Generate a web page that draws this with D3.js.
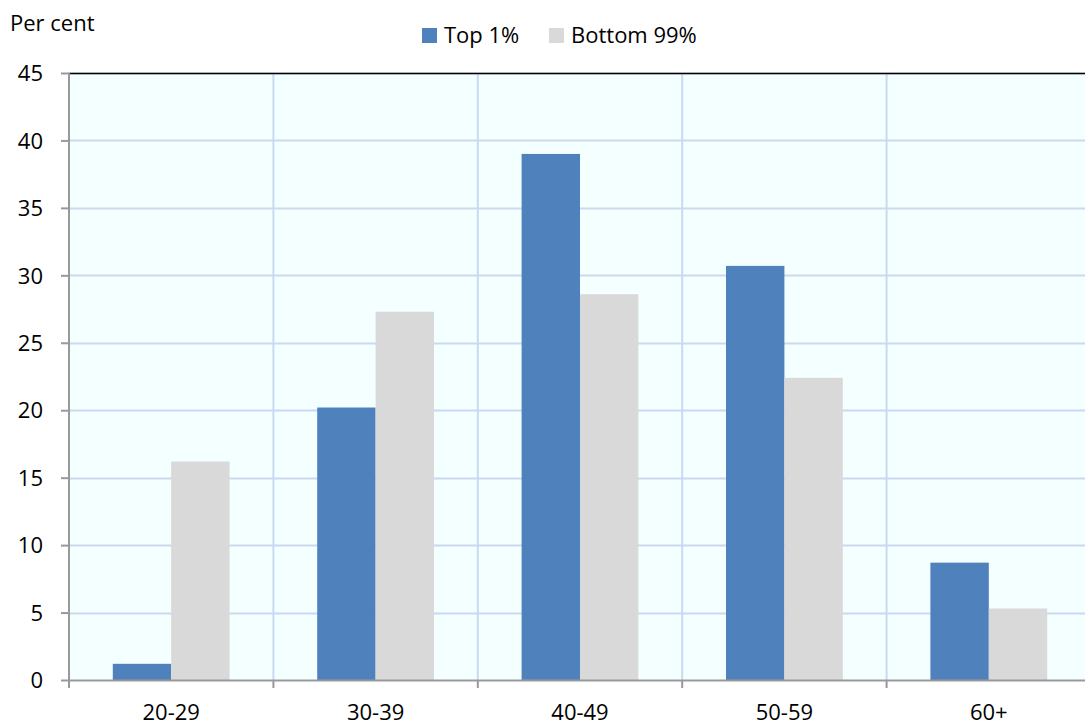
<!DOCTYPE html>
<html>
<head>
<meta charset="utf-8">
<script src="https://cdn.jsdelivr.net/npm/d3@7"></script>
<style>
  html, body { margin: 0; padding: 0; background: #fff; }
  svg text { font-family: "Open Sans", "Noto Sans", sans-serif; fill: #000; }
</style>
</head>
<body>
<div id="chart"></div>
<script>
// Age-group shares, per cent
var categories = ["20-29", "30-39", "40-49", "50-59", "60+"];
var seriesNames = ["Top 1%", "Bottom 99%"];
var top1 = [1.2, 20.2, 39.0, 30.7, 8.7];
var bottom99 = [16.2, 27.3, 28.6, 22.4, 5.3];
var yTicks = [0, 5, 10, 15, 20, 25, 30, 35, 40, 45];
var colors = ["#4f81bd", "#d9d9d9"];

var W = 1085, H = 725;
var m = { top: 73, right: -6, bottom: 45, left: 69 };
var iw = W - m.left - m.right, ih = H - m.top - m.bottom;
var fs = "22px";

var svg = d3.select("#chart").append("svg").attr("width", W).attr("height", H);
var g = svg.append("g").attr("transform", "translate(" + m.left + "," + m.top + ")");

var x = d3.scaleBand().domain(categories).range([0, iw]);
var x1 = d3.scaleBand().domain(seriesNames).range([0, x.bandwidth()]).paddingInner(0).paddingOuter(0.75);
var y = d3.scaleLinear().domain([0, 45]).range([ih, 0]);

g.append("rect").attr("width", iw).attr("height", ih).attr("fill", "#f4ffff");

// horizontal gridlines
g.append("g").selectAll("line").data(yTicks.slice(1)).enter().append("line")
  .attr("x1", 0).attr("x2", iw)
  .attr("y1", function (d) { return Math.round(y(d)) + 0.5; })
  .attr("y2", function (d) { return Math.round(y(d)) + 0.5; })
  .attr("stroke", "#c9daf0").attr("stroke-width", 2);

// vertical gridlines at category boundaries
g.append("g").selectAll("line").data(categories.slice(1)).enter().append("line")
  .attr("x1", function (d) { return x(d); }).attr("x2", function (d) { return x(d); })
  .attr("y1", 0).attr("y2", ih)
  .attr("stroke", "#c9daf0").attr("stroke-width", 2);

// bars
var data = [top1, bottom99];
data.forEach(function (vals, si) {
  g.append("g").selectAll("rect").data(vals).enter().append("rect")
    .attr("x", function (d, i) { return x(categories[i]) + x1(seriesNames[si]); })
    .attr("width", x1.bandwidth())
    .attr("y", function (d) { return y(d); })
    .attr("height", function (d) { return y(0) - y(d); })
    .attr("fill", colors[si]);
});

// top border
g.append("line").attr("x1", 0).attr("x2", iw).attr("y1", 0.5).attr("y2", 0.5)
  .attr("stroke", "#000").attr("stroke-width", 1.5);

// y axis
var yAxis = d3.axisLeft(y).tickValues(yTicks).tickSize(8).tickPadding(18).tickSizeOuter(0);
var ya = g.append("g").call(yAxis);
ya.select(".domain").attr("stroke", "#999").attr("stroke-width", 2).attr("d", "M0,0V" + (ih + 8));
ya.selectAll(".tick line").attr("stroke", "#999").attr("stroke-width", 2);
ya.selectAll(".tick text").attr("font-size", fs).attr("dy", "0.35em");

// x axis
var xAxis = d3.axisBottom(x).tickSize(0).tickPadding(24);
var xa = g.append("g").attr("transform", "translate(0," + ih + ")").call(xAxis);
xa.select(".domain").attr("stroke", "#999").attr("stroke-width", 2);
xa.selectAll(".tick text").attr("font-size", fs);
xa.append("g").selectAll("line").data(categories.slice(1)).enter().append("line")
  .attr("x1", function (d) { return x(d); }).attr("x2", function (d) { return x(d); })
  .attr("y1", 0).attr("y2", 8).attr("stroke", "#999").attr("stroke-width", 2);

// y label
svg.append("text").attr("x", 10).attr("y", 31).attr("font-size", fs).text("Per cent");

// legend
var legendX = [422, 549];
seriesNames.forEach(function (n, i) {
  svg.append("rect").attr("x", legendX[i]).attr("y", 28).attr("width", 15).attr("height", 15).attr("fill", colors[i]);
  svg.append("text").attr("x", legendX[i] + 22).attr("y", 43).attr("font-size", fs).text(n);
});
</script>
</body>
</html>
